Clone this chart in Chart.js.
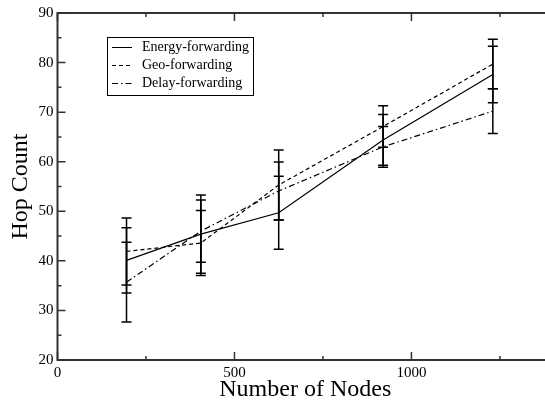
<!DOCTYPE html>
<html>
<head>
<meta charset="utf-8">
<title>Hop Count vs Number of Nodes</title>
<script src="https://cdn.jsdelivr.net/npm/chart.js"></script>
<style>
  html, body { margin: 0; padding: 0; overflow: hidden; background: #fff; width: 545px; height: 404px; }
  #wrap { width: 560px; height: 404px; }
</style>
</head>
<body>
<div id="wrap"><canvas id="hops" width="560" height="404"></canvas></div>
<script>
// data
const nodes = [195, 405, 625, 920, 1230];
const energyHops = [40.1, 45.4, 49.7, 64.4, 77.6];
const energyErr = [6.6, 7.9, 7.35, 5.1, 5.7];
const geoHops = [41.9, 43.6, 55.3, 67.1, 79.7];
const geoErr = [6.75, 6.55, 7.05, 4.2, 5.0];
const delayHops = [35.7, 46.0, 54.1, 63.0, 70.2];
const delayErr = [8.05, 6.3, 5.85, 4.1, 4.5];

const xTicks = [0, 500, 1000];
const xMinor = [250, 750, 1250];
const yTicks = [20, 30, 40, 50, 60, 70, 80, 90];
const yMinor = [25, 35, 45, 55, 65, 75, 85];

const serif = '"Liberation Serif", "DejaVu Serif", serif';

function pts(ys) {
  return nodes.map((x, i) => ({ x: x, y: ys[i] }));
}

// error bars, frame, inward ticks and the boxed legend
const xmgrace = {
  id: 'xmgrace',
  afterDatasetsDraw(chart) {
    const ctx = chart.ctx;
    const ys = chart.scales.y;
    ctx.save();
    ctx.strokeStyle = '#000';
    ctx.lineWidth = 1.5;
    ctx.setLineDash([]);
    chart.data.datasets.forEach((ds, i) => {
      const meta = chart.getDatasetMeta(i);
      meta.data.forEach((p, j) => {
        const v = ds.data[j].y, e = ds.errors[j];
        const top = ys.getPixelForValue(v + e);
        const bot = ys.getPixelForValue(v - e);
        ctx.beginPath();
        ctx.moveTo(p.x, top); ctx.lineTo(p.x, bot);
        ctx.moveTo(p.x - 5, top); ctx.lineTo(p.x + 5, top);
        ctx.moveTo(p.x - 5, bot); ctx.lineTo(p.x + 5, bot);
        ctx.stroke();
      });
    });
    ctx.restore();
  },
  afterDraw(chart) {
    const ctx = chart.ctx;
    const a = chart.chartArea;
    const xs = chart.scales.x, ys = chart.scales.y;
    ctx.save();
    ctx.lineWidth = 2;
    ctx.strokeStyle = '#333';
    ctx.strokeRect(a.left, a.top, a.right - a.left, a.bottom - a.top);

    ctx.lineWidth = 1.5;
    const tick = (vals, len) => {
      vals.forEach(v => {
        const px = xs.getPixelForValue(v);
        ctx.beginPath();
        ctx.moveTo(px, a.bottom); ctx.lineTo(px, a.bottom - len);
        ctx.moveTo(px, a.top); ctx.lineTo(px, a.top + len);
        ctx.stroke();
      });
    };
    const ytick = (vals, len) => {
      vals.forEach(v => {
        const py = ys.getPixelForValue(v);
        ctx.beginPath();
        ctx.moveTo(a.left, py); ctx.lineTo(a.left + len, py);
        ctx.moveTo(a.right, py); ctx.lineTo(a.right - len, py);
        ctx.stroke();
      });
    };
    tick(xTicks, 8); tick(xMinor, 4);
    ytick(yTicks, 8); ytick(yMinor, 4);

    // legend box
    const lx = 107, ly = 37, lw = 146, lh = 58;
    ctx.lineWidth = 1;
    ctx.strokeStyle = '#000';
    ctx.strokeRect(lx + 0.5, ly + 0.5, lw, lh);
    ctx.font = '14px ' + serif;
    ctx.fillStyle = '#000';
    ctx.textBaseline = 'middle';
    chart.data.datasets.forEach((ds, i) => {
      const cy = ly + 10 + i * 18;
      ctx.setLineDash(ds.borderDash || []);
      ctx.beginPath();
      ctx.moveTo(lx + 5, cy + 0.5); ctx.lineTo(lx + 25, cy + 0.5);
      ctx.stroke();
      ctx.setLineDash([]);
      ctx.fillText(ds.label, lx + 35, cy);
    });
    ctx.restore();
  }
};

new Chart(document.getElementById('hops'), {
  type: 'scatter',
  data: {
    datasets: [
      { label: 'Energy-forwarding', data: pts(energyHops), errors: energyErr,
        borderColor: '#000', borderWidth: 1.2, borderDash: [], showLine: true, pointRadius: 0 },
      { label: 'Geo-forwarding', data: pts(geoHops), errors: geoErr,
        borderColor: '#000', borderWidth: 1.2, borderDash: [4, 3], showLine: true, pointRadius: 0 },
      { label: 'Delay-forwarding', data: pts(delayHops), errors: delayErr,
        borderColor: '#000', borderWidth: 1.2, borderDash: [6, 3, 1.5, 3], showLine: true, pointRadius: 0 }
    ]
  },
  options: {
    responsive: false,
    animation: false,
    layout: { padding: { top: 12, right: 7, left: 0, bottom: 0 } },
    plugins: { legend: { display: false }, tooltip: { enabled: false } },
    scales: {
      x: {
        type: 'linear', min: 0, max: 1400,
        afterBuildTicks: s => { s.ticks = xTicks.map(v => ({ value: v })); },
        afterFit: s => { s.height = 44; },
        grid: { display: false, drawTicks: false },
        border: { display: false },
        ticks: { color: '#000', padding: 4, font: { family: serif, size: 15 },
                 callback: v => String(v) },
        title: { display: true, text: 'Number of Nodes', color: '#000',
                 font: { family: serif, size: 24 }, padding: { top: 0, bottom: 0 } }
      },
      y: {
        type: 'linear', min: 20, max: 90,
        afterBuildTicks: s => { s.ticks = yTicks.map(v => ({ value: v })); },
        afterFit: s => { s.width = 57.5; },
        grid: { display: false, drawTicks: false },
        border: { display: false },
        ticks: { color: '#000', padding: 4, font: { family: serif, size: 15 },
                 callback: v => String(v) },
        title: { display: true, text: 'Hop Count', color: '#000',
                 font: { family: serif, size: 24 }, padding: { top: 6, bottom: 0 } }
      }
    }
  },
  plugins: [xmgrace]
});
</script>
</body>
</html>
